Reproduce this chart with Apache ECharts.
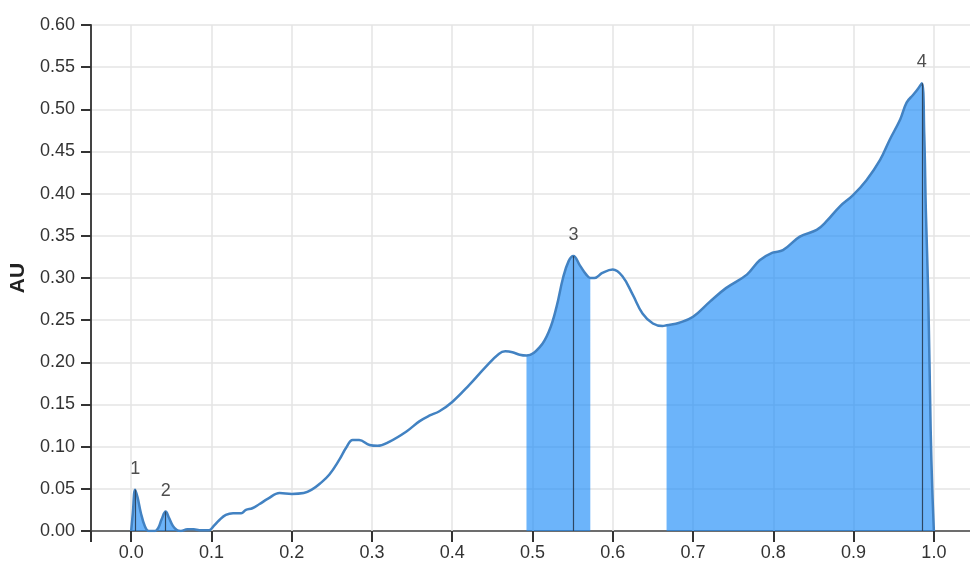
<!DOCTYPE html>
<html>
<head>
<meta charset="utf-8">
<script src="https://cdn.jsdelivr.net/npm/echarts@6/dist/echarts.min.js"></script>
<style>
  html, body { margin: 0; padding: 0; background: #fff; }
  #chart-container { width: 970px; height: 574px; }
</style>
</head>
<body>
<div id="chart-container"></div>
<script>
// curve (x = position, y = AU)
const xVals = [
  0.000, 0.002, 0.005, 0.008, 0.012, 0.017, 0.022, 0.030, 0.034, 0.038,
  0.043, 0.047, 0.052, 0.057, 0.062, 0.070, 0.078, 0.085, 0.097, 0.103,
  0.110, 0.118, 0.127, 0.137, 0.143, 0.151, 0.160, 0.170, 0.185, 0.200,
  0.215, 0.225, 0.235, 0.247, 0.259, 0.268, 0.276, 0.284, 0.297, 0.307,
  0.322, 0.343, 0.359, 0.372, 0.384, 0.400, 0.421, 0.442, 0.458, 0.466,
  0.475, 0.484, 0.4925, 0.509, 0.521, 0.530, 0.538, 0.545, 0.551, 0.559,
  0.567, 0.572, 0.577, 0.587, 0.600, 0.612, 0.625, 0.637, 0.650, 0.662,
  0.667, 0.683, 0.700, 0.721, 0.741, 0.767, 0.783, 0.799, 0.812, 0.833,
  0.854, 0.866, 0.883, 0.899, 0.916, 0.933, 0.945, 0.958, 0.966, 0.974,
  0.980, 0.985, 0.988, 0.990, 0.993, 0.996, 0.998, 1.000
];
const yVals = [
  0.000, 0.020, 0.049, 0.040, 0.022, 0.006, 0.000, 0.000, 0.004, 0.014,
  0.023, 0.016, 0.006, 0.001, 0.000, 0.002, 0.002, 0.001, 0.001, 0.006,
  0.013, 0.019, 0.021, 0.021, 0.025, 0.027, 0.032, 0.038, 0.045, 0.044,
  0.045, 0.049, 0.056, 0.067, 0.084, 0.099, 0.108, 0.108, 0.102, 0.101,
  0.106, 0.118, 0.130, 0.137, 0.142, 0.153, 0.173, 0.195, 0.210, 0.213,
  0.212, 0.209, 0.208, 0.218, 0.238, 0.266, 0.300, 0.320, 0.326, 0.315,
  0.304, 0.300, 0.300, 0.306, 0.310, 0.302, 0.280, 0.258, 0.246, 0.243,
  0.244, 0.247, 0.254, 0.272, 0.288, 0.304, 0.321, 0.330, 0.333, 0.349,
  0.357, 0.367, 0.385, 0.398, 0.416, 0.440, 0.464, 0.488, 0.508, 0.517,
  0.524, 0.531, 0.470, 0.380, 0.280, 0.120, 0.050, 0.000
];

// shaded ranges [from, to]
const regionStart = [0.000, 0.4925, 0.667];
const regionEnd = [0.062, 0.572, 1.000];

// labelled peaks
const peakX = [0.005, 0.043, 0.551, 0.985];
const peakY = [0.049, 0.023, 0.326, 0.531];
const peakLabels = ['1', '2', '3', '4'];

// axis ticks
const xTicks = [0.0, 0.1, 0.2, 0.3, 0.4, 0.5, 0.6, 0.7, 0.8, 0.9, 1.0];

const FONT = 'Liberation Sans';
const curve = xVals.map((x, i) => [x, yVals[i]]);

const dom = document.getElementById('chart-container');
const myChart = echarts.init(dom, null, { renderer: 'canvas' });

const areaSeries = regionStart.map((from, i) => ({
  type: 'line',
  data: curve.filter(p => p[0] >= from && p[0] <= regionEnd[i]),
  smooth: 0.4,
  showSymbol: false,
  lineStyle: { width: 0 },
  areaStyle: { color: 'rgba(29,140,247,0.65)', opacity: 1 },
  silent: true,
  z: 2
}));

const option = {
  animation: false,
  grid: { left: 91, right: 0, top: 25, bottom: 43, outerBoundsMode: 'none', containLabel: false },
  xAxis: {
    type: 'value',
    min: -0.05,
    max: 1.045,
    axisLine: { onZero: false, lineStyle: { color: '#444', width: 1.5 } },
    axisTick: {
      customValues: [-0.05].concat(xTicks),
      length: 11,
      lineStyle: { color: '#333', width: 2 }
    },
    axisLabel: {
      customValues: xTicks,
      formatter: v => v.toFixed(1),
      margin: 13,
      fontFamily: FONT,
      fontSize: 18,
      color: '#333'
    },
    splitLine: { show: false }
  },
  yAxis: {
    type: 'value',
    min: 0,
    max: 0.6,
    interval: 0.05,
    name: 'AU',
    nameLocation: 'middle',
    nameGap: 50,
    nameTextStyle: { fontFamily: FONT, fontSize: 21, fontWeight: 'bold', color: '#222' },
    axisLine: { show: true, onZero: false, lineStyle: { color: '#444', width: 2 } },
    axisTick: { show: true, length: 10, lineStyle: { color: '#333', width: 2 } },
    axisLabel: {
      formatter: v => v.toFixed(2),
      margin: 16,
      fontFamily: FONT,
      fontSize: 18,
      color: '#333'
    },
    splitLine: { lineStyle: { color: '#e4e4e4', width: 1.5 } }
  },
  series: [
    // vertical grid lines
    {
      type: 'line',
      data: [],
      silent: true,
      z: 0,
      markLine: {
        silent: true,
        z: 1,
        symbol: ['none', 'none'],
        label: { show: false },
        lineStyle: { color: '#e4e4e4', width: 1.5, type: 'solid' },
        data: xTicks.map(v => ({ xAxis: v }))
      }
    },
    ...areaSeries,
    {
      type: 'line',
      data: curve,
      smooth: 0.4,
      showSymbol: false,
      lineStyle: { color: '#4282c2', width: 2.5 },
      z: 3
    },
    {
      type: 'scatter',
      data: peakX.map((x, i) => ({ value: [x, peakY[i]], name: peakLabels[i] })),
      symbolSize: 0,
      label: {
        show: true,
        position: 'top',
        distance: 12,
        formatter: '{b}',
        fontFamily: FONT,
        fontSize: 18,
        color: '#222'
      },
      markLine: {
        silent: true,
        symbol: ['none', 'none'],
        label: { show: false },
        lineStyle: { color: '#2d4763', width: 1.2, type: 'solid' },
        data: peakX.map((x, i) => [{ coord: [x, 0] }, { coord: [x, peakY[i]] }])
      },
      z: 4
    }
  ]
};

myChart.setOption(option, true);
</script>
</body>
</html>
